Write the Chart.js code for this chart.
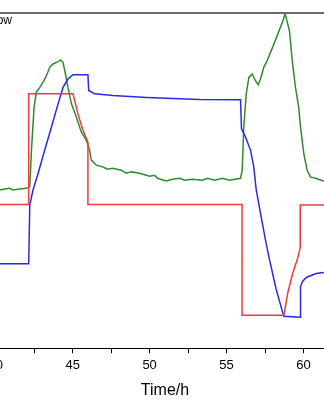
<!DOCTYPE html>
<html>
<head>
<meta charset="utf-8">
<script src="https://cdn.jsdelivr.net/npm/chart.js@4/dist/chart.umd.min.js"></script>
<style>
  html, body { margin: 0; padding: 0; background: #fff; overflow: hidden; }
  #wrap { position: absolute; left: -35px; top: 0; width: 400px; height: 400px; }
</style>
</head>
<body>
<div id="wrap"><canvas id="chart"></canvas></div>
<script>
// time in h, values in % of the (hidden) y range
const redTime = [38, 42.14, 42.14, 45.02, 45.34, 45.67, 45.99, 45.99, 56.01, 56.01, 58.73, 58.98, 59.31, 59.63, 59.79, 59.79, 64]
const redValue = [42.9, 42.9, 75.9, 75.9, 69.9, 65.0, 61.5, 42.9, 42.9, 9.8, 9.8, 16.5, 22.5, 26.9, 30.0, 42.7, 42.7]

const blueTime = [38, 42.14, 42.21, 42.42, 42.75, 43.18, 43.62, 44.05, 44.37, 44.69, 45.02, 45.99, 46.04, 46.43, 47.6, 49.81,
  53.25, 55.91, 55.97, 56.23, 56.56, 56.77, 56.93, 57.25, 57.53, 57.79, 58.23, 58.72, 59.79, 59.81, 59.94, 60.18, 60.82, 61.3, 64]
const blueValue = [25.2, 25.2, 42.7, 47.2, 52.1, 59.1, 66.0, 72.9, 77.8, 80.3, 81.6, 81.6, 76.9, 75.9, 75.4, 74.8,
  74.2, 74.1, 65.5, 63.0, 59.1, 54.1, 47.2, 39.2, 32.3, 26.4, 17.5, 9.5, 9.2, 18.4, 19.9, 21.1, 22.3, 22.6, 23.0]

const greenTime = [38, 40.26, 40.58, 40.91, 41.12, 41.56, 41.99, 42.21, 42.32, 42.49, 42.64, 42.86, 43.07, 43.29, 43.51, 43.72,
  44.05, 44.22, 44.37, 44.53, 44.69, 44.92, 45.24, 45.56, 45.89, 46.1, 46.21, 46.54, 46.95, 47.27, 47.6, 48.16, 48.49, 48.81,
  49.35, 50.0, 50.32, 50.52, 51.08, 51.49, 51.95, 52.27, 52.79, 53.44, 53.77, 54.22, 54.74, 55.19, 55.91, 56.02, 56.12, 56.28,
  56.45, 56.67, 56.88, 57.06, 57.21, 57.42, 57.64, 57.9, 58.33, 58.66, 58.81, 59.09, 59.27, 59.48, 59.69, 59.81, 60.02, 60.24,
  60.45, 60.78, 61.3, 64]
const greenValue = [47.4, 47.2, 47.5, 47.7, 47.2, 47.5, 47.7, 48.2, 59.1, 71.9, 76.4, 77.8, 79.3, 81.3, 83.8, 84.8,
  85.5, 86.0, 85.3, 81.8, 77.8, 72.9, 68.9, 64.5, 62.0, 59.1, 56.1, 54.6, 54.1, 53.4, 53.7, 53.1, 52.2, 52.6,
  52.2, 51.3, 51.6, 50.7, 49.9, 50.4, 50.7, 50.1, 50.4, 50.1, 50.7, 50.1, 50.7, 50.1, 50.7, 53.1, 66.0, 75.9,
  80.8, 81.8, 79.8, 78.6, 80.3, 83.8, 85.8, 88.7, 93.7, 97.6, 99.8, 94.7, 85.8, 77.8, 71.9, 66.0, 58.1, 53.1,
  51.1, 50.7, 49.9, 50.0]

const xTicks = { min: 38, max: 64, step: 2.5 }

const toPoints = (t, v) => t.map((x, i) => ({ x, y: v[i] }))

// legend text cut by the crop, only its tail shows
const cornerText = {
  id: 'cornerText',
  afterDraw(chart) {
    const { ctx } = chart
    ctx.save()
    ctx.font = '12px "Liberation Sans", Arial, sans-serif'
    ctx.fillStyle = '#000'
    ctx.textAlign = 'right'
    ctx.textBaseline = 'middle'
    ctx.fillText('Flow', 47, 21)
    ctx.restore()
  },
}

new Chart(document.getElementById('chart'), {
  type: 'line',
  data: {
    datasets: [
      { data: toPoints(redTime, redValue), borderColor: '#ef3b3b' },
      { data: toPoints(blueTime, blueValue), borderColor: '#2a2ae6' },
      { data: toPoints(greenTime, greenValue), borderColor: '#2f8a2f' },
    ],
  },
  options: {
    responsive: true,
    maintainAspectRatio: false,
    animation: false,
    parsing: false,
    datasets: {
      line: { borderWidth: 1.5, pointRadius: 0, tension: 0, fill: false },
    },
    layout: { padding: { top: 5, left: 0, right: 0, bottom: 0 } },
    plugins: { legend: { display: false }, tooltip: { enabled: false } },
    scales: {
      x: {
        type: 'linear',
        position: 'bottom',
        min: xTicks.min,
        max: xTicks.max,
        ticks: {
          stepSize: xTicks.step,
          includeBounds: false,
          autoSkip: false,
          maxRotation: 0,
          padding: 4,
          color: '#000',
          font: { size: 13, family: '"Liberation Sans", Arial, sans-serif' },
          callback: (v) => (v % 5 === 0 ? v : ''),
        },
        grid: { drawOnChartArea: false, drawTicks: true, tickLength: 5, color: '#000' },
        border: { color: '#000', width: 1 },
        title: {
          display: true,
          text: 'Time/h',
          color: '#000',
          font: { size: 16, family: '"Liberation Sans", Arial, sans-serif' },
          padding: { top: 4, bottom: 0 },
        },
      },
      xTop: {
        type: 'linear',
        axis: 'x',
        position: 'top',
        min: xTicks.min,
        max: xTicks.max,
        ticks: { display: false },
        grid: { display: false },
        border: { color: '#6b6b6b', width: 2 },
      },
      y: { min: 0, max: 100, display: false },
    },
  },
  plugins: [cornerText],
})
</script>
</body>
</html>
